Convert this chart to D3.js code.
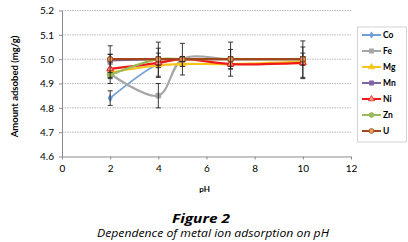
<!DOCTYPE html>
<html>
<head>
<meta charset="utf-8">
<script src="https://cdn.jsdelivr.net/npm/d3@7"></script>
<style>
  body { margin: 0; background: #fff; }
  svg { display: block; font-family: Lato, "Liberation Sans", sans-serif; }
</style>
</head>
<body>
<div id="chart"></div>
<script>
// chart data
let phValues = [2, 4, 5, 7, 10];
let seriesNames = ['Co', 'Fe', 'Mg', 'Mn', 'Ni', 'Zn', 'U'];
let coValues = [4.84, 4.98, 5.0, 5.0, 5.0];
let feValues = [4.94, 4.85, 5.0, 5.0, 5.0];
let mgValues = [4.945, 4.975, 4.98, 4.98, 4.99];
let mnValues = [4.995, 5.0, 5.0, 5.0, 5.0];
let niValues = [4.96, 4.985, 5.0, 4.98, 4.985];
let znValues = [4.935, 5.0, 5.0, 5.0, 5.0];
let uValues = [5.0, 5.0, 5.0, 5.0, 5.0];
// +/- error per point
let coErr = [0.03, 0.01, 0.01, 0.01, 0.01];
let feErr = [0.02, 0.05, 0.01, 0.01, 0.01];
let mgErr = [0.01, 0.01, 0.01, 0.01, 0.01];
let mnErr = [0.06, 0.07, 0.065, 0.07, 0.075];
let niErr = [0.06, 0.06, 0.01, 0.02, 0.065];
let znErr = [0.01, 0.01, 0.01, 0.01, 0.01];
let uErr = [0.02, 0.025, 0.01, 0.04, 0.025];
let xTicks = [0, 2, 4, 6, 8, 10, 12];
let yTicks = [4.6, 4.7, 4.8, 4.9, 5.0, 5.1, 5.2];

let series = [
    { name: 'Co', values: coValues, err: coErr, color: '#6f9fd8', marker: 'diamond', fill: '#6f9fd8', width: 1.6 },
    { name: 'Fe', values: feValues, err: feErr, color: '#a6a6a6', marker: 'square', fill: '#a6a6a6', width: 2.2 },
    { name: 'Mg', values: mgValues, err: mgErr, color: '#f5c518', marker: 'triangle', fill: '#f5c518', width: 2.2 },
    { name: 'Mn', values: mnValues, err: mnErr, color: '#8064a2', marker: 'square', fill: '#8064a2', width: 2.2 },
    { name: 'Ni', values: niValues, err: niErr, color: '#f01818', marker: 'triangle', fill: '#f7a08a', width: 2.2 },
    { name: 'Zn', values: znValues, err: znErr, color: '#9bbb59', marker: 'circle', fill: '#9bbb59', width: 2.2 },
    { name: 'U', values: uValues, err: uErr, color: '#a0461a', marker: 'circle', fill: '#e9a060', width: 2.2 }
];

let W = 408, H = 242;
let margin = { top: 11, left: 62, right: 57, bottom: 86 };

let svg = d3.select('#chart').append('svg')
    .attr('width', W)
    .attr('height', H);

let x = d3.scaleLinear().domain([0, 12]).range([margin.left, 351]);
let y = d3.scaleLinear().domain([4.6, 5.2]).range([156.5, 10.5]);

// gridlines
svg.append('g')
    .selectAll('line')
    .data(yTicks.slice(1))
    .join('line')
    .attr('x1', x(0)).attr('x2', x(12))
    .attr('y1', d => y(d)).attr('y2', d => y(d))
    .attr('stroke', '#a8a8a8')
    .attr('stroke-width', 0.8)
    .attr('stroke-dasharray', '1.5,1');

// axes
let xAxis = svg.append('g')
    .attr('transform', `translate(0,${y(4.6)})`)
    .call(d3.axisBottom(x).tickValues(xTicks).tickFormat(d3.format('d')).tickSize(3).tickSizeOuter(0));
let yAxis = svg.append('g')
    .attr('transform', `translate(${x(0)},0)`)
    .call(d3.axisLeft(y).tickValues(yTicks).tickFormat(d3.format('.1f')).tickSize(3).tickSizeOuter(0));

[xAxis, yAxis].forEach(ax => {
    ax.select('.domain').attr('stroke', '#8c8c8c');
    ax.selectAll('.tick line').attr('stroke', '#8c8c8c');
    ax.selectAll('.tick text')
        .attr('fill', '#000')
        .style('font-size', '10px')
        .style('font-family', 'Lato, sans-serif');
});
xAxis.selectAll('.tick text').attr('dy', '0.9em').attr('y', 6);
yAxis.selectAll('.tick text').attr('x', -8);

// axis titles
svg.append('text')
    .attr('x', x(6) - 2).attr('y', 192)
    .attr('text-anchor', 'middle')
    .style('font-size', '8px').style('font-weight', 'bold')
    .text('pH');
svg.append('text')
    .attr('transform', `translate(18,${y(4.9) + 3}) rotate(-90)`)
    .attr('text-anchor', 'middle')
    .style('font-size', '9.5px').style('font-weight', 'bold')
    .text('Amount adsobed (mg/g)');

let line = d3.line()
    .x(d => x(d[0]))
    .y(d => y(d[1]))
    .curve(d3.curveCatmullRom.alpha(0.5));

let symbolFor = {
    diamond: d3.symbolDiamond,
    square: d3.symbolSquare,
    triangle: d3.symbolTriangle,
    circle: d3.symbolCircle
};
let sizeFor = { diamond: 14, square: 22, triangle: 20, circle: 24 };

let plot = svg.append('g');
series.forEach(s => {
    let pts = phValues.map((p, i) => [p, s.values[i], s.err[i]]);
    plot.append('path')
        .datum(pts)
        .attr('d', line)
        .attr('fill', 'none')
        .attr('stroke', s.color)
        .attr('stroke-width', s.width);

    plot.append('g')
        .selectAll('path')
        .data(pts)
        .join('path')
        .attr('transform', d => `translate(${x(d[0])},${y(d[1])})`)
        .attr('d', d3.symbol().type(symbolFor[s.marker]).size(sizeFor[s.marker]))
        .attr('fill', s.fill)
        .attr('stroke', s.color)
        .attr('stroke-width', 1);

    // error bars
    let eb = plot.append('g')
        .selectAll('g')
        .data(pts)
        .join('g')
        .attr('stroke', '#222')
        .attr('stroke-width', 0.9);
    eb.append('line')
        .attr('x1', d => x(d[0])).attr('x2', d => x(d[0]))
        .attr('y1', d => y(d[1] - d[2])).attr('y2', d => y(d[1] + d[2]));
    eb.append('line')
        .attr('x1', d => x(d[0]) - 2.5).attr('x2', d => x(d[0]) + 2.5)
        .attr('y1', d => y(d[1] + d[2])).attr('y2', d => y(d[1] + d[2]));
    eb.append('line')
        .attr('x1', d => x(d[0]) - 2.5).attr('x2', d => x(d[0]) + 2.5)
        .attr('y1', d => y(d[1] - d[2])).attr('y2', d => y(d[1] - d[2]));
});

// legend
let legend = svg.append('g');
legend.append('rect')
    .attr('x', 357.5).attr('y', 27)
    .attr('width', 49).attr('height', 115)
    .attr('fill', '#fff')
    .attr('stroke', '#c8c8c8')
    .attr('stroke-width', 0.8);
let items = legend.selectAll('g.item')
    .data(series)
    .join('g')
    .attr('class', 'item')
    .attr('transform', (d, i) => `translate(0,${35 + i * 16})`);
items.append('line')
    .attr('x1', 362).attr('x2', 381)
    .attr('stroke', d => d.color)
    .attr('stroke-width', 2);
items.append('path')
    .attr('transform', 'translate(371.5,0)')
    .attr('d', d => d3.symbol().type(symbolFor[d.marker]).size(sizeFor[d.marker] * 0.8)())
    .attr('fill', d => d.fill)
    .attr('stroke', d => d.color)
    .attr('stroke-width', 0.8);
items.append('text')
    .attr('x', 383).attr('y', 0)
    .attr('dy', '0.35em')
    .style('font-size', '8.5px').style('font-weight', 'bold')
    .text(d => d.name);

// caption
svg.append('text')
    .attr('x', 201).attr('y', 222.5)
    .attr('text-anchor', 'middle')
    .attr('textLength', 58)
    .attr('lengthAdjust', 'spacingAndGlyphs')
    .style('font-family', '"Open Sans", sans-serif')
    .style('font-size', '12px').style('font-weight', 'bold').style('font-style', 'italic')
    .text('Figure 2');
svg.append('text')
    .attr('x', 213).attr('y', 237)
    .attr('text-anchor', 'middle')
    .attr('textLength', 232)
    .attr('lengthAdjust', 'spacingAndGlyphs')
    .style('font-family', '"Open Sans", sans-serif')
    .style('font-size', '10.5px').style('font-style', 'italic')
    .text('Dependence of metal ion adsorption on pH');
</script>
</body>
</html>
